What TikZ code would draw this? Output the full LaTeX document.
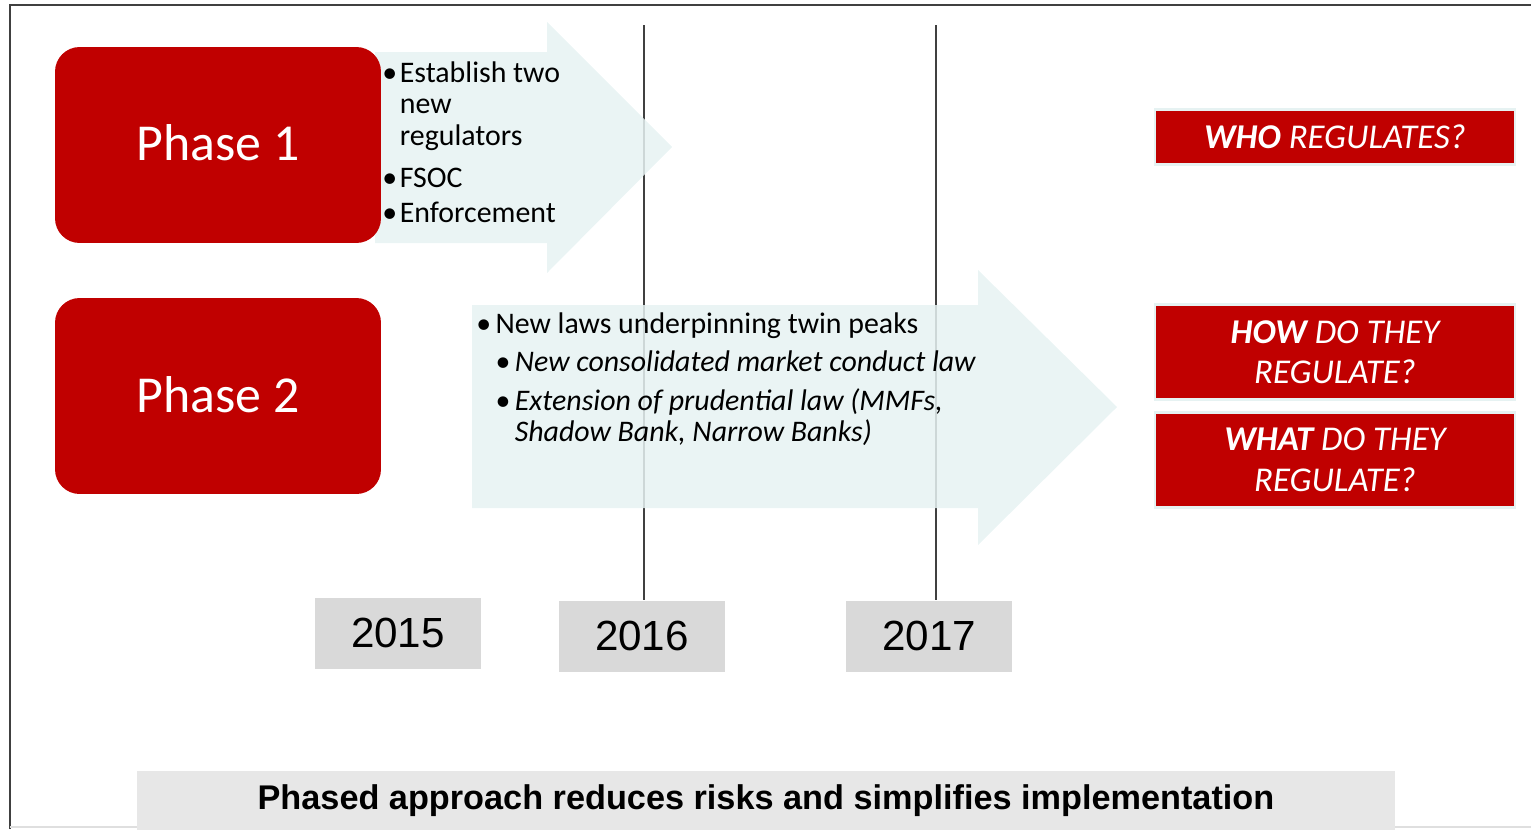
\documentclass[tikz,border=0pt]{standalone}
\usepackage{fontspec}
\setmainfont{Carlito}
\newfontfamily\arialfont{Liberation Sans}
\usetikzlibrary{positioning}
\definecolor{phasered}{RGB}{192,0,0}
\definecolor{arrowfill}{RGB}{230,242,242}
\definecolor{yeargray}{RGB}{217,217,217}
\definecolor{bannergray}{RGB}{231,231,231}
\definecolor{linegray}{RGB}{64,64,64}

\begin{document}
\begin{tikzpicture}[x=0.02cm, y=-0.02cm,
  phase/.style={fill=phasered, rounded corners=14pt, minimum width=6.52cm,
    minimum height=3.92cm, text=white, font=\fontsize{29.5}{36}\selectfont},
  qbox/.style={fill=phasered, draw=arrowfill, line width=1.5pt,
    minimum width=7.2cm, text=white, align=center,
    font=\fontsize{19.8}{23}\selectfont\itshape},
  yearbox/.style={fill=yeargray, minimum width=3.32cm, minimum height=1.42cm,
    font=\arialfont\fontsize{24}{28}\selectfont},
  bigarrow/.style={fill=arrowfill, fill opacity=0.85},
  yearline/.style={linegray, line width=0.8pt},
  bullets/.style={inner sep=0pt, anchor=base west,
    font=\fontsize{17}{18}\selectfont}
]
  \useasboundingbox (0,0) rectangle (1531,829);

  % frame
  \draw[linegray, line width=0.8pt] (10,829) -- (10,5) -- (1531,5);
  \draw[gray!25, line width=1pt] (10,827) -- (1531,827);

  % years and timeline
  \node[yearbox] (y15) at (398,633) {2015};
  \node[yearbox] (y16) at (642,636) {2016};
  \node[yearbox] (y17) at (929,636) {2017};
  \coordinate (t16) at (644,25);
  \coordinate (t17) at (936,25);
  \draw[yearline] (t16) -- (t16 |- y16.north);
  \draw[yearline] (t17) -- (t17 |- y17.north);

  % Phase 1 (top)
  \fill[bigarrow] (375,52) -- (547,52) -- (547,22) -- (672,147)
    -- (547,273) -- (547,243) -- (375,243) -- cycle;
  \node[phase] (phase1) at (218,145) {\raisebox{3pt}{Phase 1}};
  \node[bullets] (list1) at (382,82) {%
    \begin{tabular}[t]{@{}l@{\hspace{1.5pt}}l@{}}
      \textbullet & Establish two\\
                  & new\\
                  & regulators\\[6pt]
      \textbullet & FSOC\\[2pt]
      \textbullet & Enforcement
    \end{tabular}};

  % Phase 2 (bottom)
  \fill[bigarrow] (472,305) -- (978,305) -- (978,270) -- (1117,407)
    -- (978,545) -- (978,508) -- (472,508) -- cycle;
  \node[phase] (phase2) at (218,396) {\raisebox{2pt}{Phase 2}};
  \node[bullets] (list2) at (476,333) {%
    \begin{tabular}[t]{@{}l@{\hspace{2.5pt}}l@{\hspace{2.5pt}}l@{}}
      \textbullet & \multicolumn{2}{@{}l@{}}{New laws underpinning twin peaks}\\[4pt]
      & \textbullet & \textit{New consolidated market conduct law}\\[4pt]
      & \textbullet & \textit{Extension of prudential law (MMFs,}\\
      &             & \textit{Shadow Bank, Narrow Banks)}
    \end{tabular}};

  % questions
  \node[qbox, minimum height=1.1cm] (who) at (1335,137)
    {\textbf{WHO} REGULATES?};
  \node[qbox, minimum height=1.9cm] (how) at (1335,352)
    {\textbf{HOW} DO THEY\\REGULATE?};
  \node[qbox, minimum height=1.9cm] (what) at (1335,460)
    {\textbf{WHAT} DO THEY\\REGULATE?};

  % banner
  \node[fill=bannergray, minimum width=25.18cm, minimum height=1.2cm,
    font=\arialfont\bfseries\fontsize{19.5}{22}\selectfont] (banner) at (766,801)
    {Phased approach reduces risks and simplifies implementation};
\end{tikzpicture}
\end{document}
